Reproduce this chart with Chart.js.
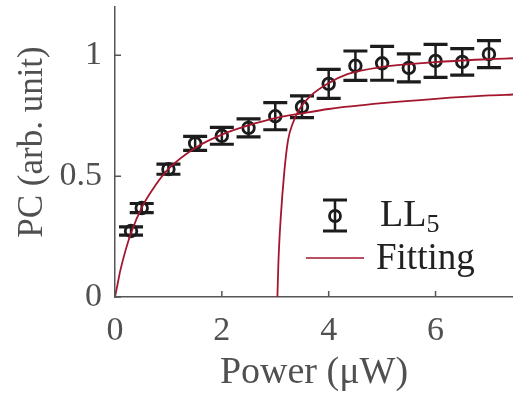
<!DOCTYPE html>
<html>
<head>
<meta charset="utf-8">
<script src="https://cdn.jsdelivr.net/npm/chart.js@4"></script>
<style>
  html, body { margin: 0; padding: 0; background: #fff; }
  #wrap { width: 513px; height: 400px; }
</style>
</head>
<body>
<div id="wrap"><canvas id="pcChart"></canvas></div>
<script>
// measured points (LL5)
const powerUW = [0.3, 0.5, 1, 1.5, 2, 2.5, 3, 3.5, 4, 4.5, 5, 5.5, 6, 6.5, 7];
const pcValue = [0.273, 0.368, 0.529, 0.636, 0.667, 0.70, 0.748, 0.787, 0.882, 0.957, 0.967, 0.948, 0.977, 0.973, 1.005];
const pcError = [0.017, 0.019, 0.021, 0.029, 0.035, 0.037, 0.056, 0.045, 0.06, 0.061, 0.07, 0.058, 0.068, 0.055, 0.056];

// fitting curves
const fitLowX = [0, 0.05, 0.1, 0.2, 0.3, 0.5, 0.75, 1, 1.5, 2, 2.5, 3, 3.5, 4, 5, 6, 7, 7.45];
const fitLowY = [0, 0.055, 0.11, 0.195, 0.265, 0.37, 0.46, 0.53, 0.617, 0.672, 0.71, 0.74, 0.76, 0.778, 0.802, 0.82, 0.834, 0.838];
const fitHighX = [3.04, 3.06, 3.1, 3.17, 3.24, 3.33, 3.46, 3.65, 4, 4.35, 5, 6, 7, 7.45];
const fitHighY = [0, 0.15, 0.32, 0.52, 0.65, 0.72, 0.78, 0.83, 0.885, 0.922, 0.952, 0.972, 0.984, 0.988];

const xTicks = [0, 2, 4, 6];
const yTicks = [0, 0.5, 1];

const axisColor = "#555555";
const textColor = "#505050";
const markColor = "#1c1c1c";
const fitColor = "#a3162e";
const serif = "'Liberation Serif', 'DejaVu Serif', serif";

const toPoints = (xs, ys) => xs.map((x, i) => ({ x, y: ys[i] }));

// error bars under the markers
const errorBars = {
  id: "errorBars",
  beforeDatasetsDraw(chart) {
    const { ctx, scales: { x, y } } = chart;
    ctx.save();
    ctx.strokeStyle = markColor;
    powerUW.forEach((p, i) => {
      const px = x.getPixelForValue(p);
      const top = y.getPixelForValue(pcValue[i] + pcError[i]);
      const bot = y.getPixelForValue(pcValue[i] - pcError[i]);
      ctx.lineWidth = 2.5;
      ctx.beginPath();
      ctx.moveTo(px, top);
      ctx.lineTo(px, bot);
      ctx.stroke();
      ctx.lineWidth = 3.2;
      ctx.beginPath();
      ctx.moveTo(px - 12, top); ctx.lineTo(px + 12, top);
      ctx.moveTo(px - 12, bot); ctx.lineTo(px + 12, bot);
      ctx.stroke();
    });
    ctx.restore();
  }
};

// inward ticks, y title, legend box
const axisDecor = {
  id: "axisDecor",
  afterDraw(chart) {
    const { ctx, chartArea: a, scales: { x, y } } = chart;
    ctx.save();
    ctx.strokeStyle = axisColor;
    ctx.lineWidth = 1.5;
    ctx.beginPath();
    xTicks.forEach(v => {
      const px = x.getPixelForValue(v);
      ctx.moveTo(px, a.bottom); ctx.lineTo(px, a.bottom - 6);
    });
    yTicks.forEach(v => {
      const py = y.getPixelForValue(v);
      ctx.moveTo(a.left, py); ctx.lineTo(a.left + 6, py);
    });
    ctx.stroke();

    // y title
    ctx.save();
    ctx.translate(33, 142);
    ctx.rotate(-Math.PI / 2);
    ctx.fillStyle = textColor;
    ctx.font = "35px " + serif;
    ctx.textAlign = "center";
    ctx.textBaseline = "middle";
    ctx.fillText("PC (arb. unit)", 0, 0);
    ctx.restore();

    // legend: error bar sample
    const lx = 335;
    ctx.strokeStyle = markColor;
    ctx.lineWidth = 2.5;
    ctx.beginPath(); ctx.moveTo(lx, 200); ctx.lineTo(lx, 231); ctx.stroke();
    ctx.lineWidth = 3.2;
    ctx.beginPath();
    ctx.moveTo(lx - 12, 200); ctx.lineTo(lx + 12, 200);
    ctx.moveTo(lx - 12, 231); ctx.lineTo(lx + 12, 231);
    ctx.stroke();
    ctx.lineWidth = 2.8;
    ctx.beginPath(); ctx.arc(lx, 216, 5.5, 0, Math.PI * 2); ctx.stroke();
    // legend: fitting line
    ctx.strokeStyle = fitColor;
    ctx.lineWidth = 1.6;
    ctx.beginPath(); ctx.moveTo(306, 258); ctx.lineTo(364, 258); ctx.stroke();

    ctx.fillStyle = "#222";
    ctx.textBaseline = "alphabetic";
    ctx.textAlign = "left";
    ctx.font = "38px " + serif;
    ctx.fillText("LL", 380, 226);
    const w = ctx.measureText("LL").width;
    ctx.font = "26px " + serif;
    ctx.fillText("5", 380 + w, 232);
    ctx.font = "37px " + serif;
    ctx.fillText("Fitting", 376, 269);
    ctx.restore();
  }
};

const noPad = s => { s.paddingTop = 0; s.paddingBottom = 0; s.paddingLeft = 0; s.paddingRight = 0; };

const chart = new Chart(document.getElementById("pcChart"), {
  type: "scatter",
  data: {
    datasets: [
      {
        type: "line",
        label: "Fitting",
        data: toPoints(fitHighX, fitHighY),
        borderColor: fitColor,
        borderWidth: 1.8,
        pointRadius: 0,
        cubicInterpolationMode: "monotone",
        fill: false
      },
      {
        type: "line",
        label: "Fitting low",
        data: toPoints(fitLowX, fitLowY),
        borderColor: fitColor,
        borderWidth: 1.8,
        pointRadius: 0,
        cubicInterpolationMode: "monotone",
        fill: false
      },
      {
        label: "LL5",
        data: toPoints(powerUW, pcValue),
        pointStyle: "circle",
        pointRadius: 5.8,
        pointBorderWidth: 2.8,
        pointBorderColor: markColor,
        pointBackgroundColor: "rgba(0,0,0,0)"
      }
    ]
  },
  options: {
    responsive: true,
    maintainAspectRatio: false,
    animation: false,
    devicePixelRatio: 1,
    layout: { autoPadding: false, padding: { top: 7, right: 0, left: 0, bottom: 0 } },
    plugins: {
      legend: { display: false },
      tooltip: { enabled: false }
    },
    scales: {
      x: {
        type: "linear",
        min: 0,
        max: 7.45,
        afterFit: s => { s.height = 103; noPad(s); },
        afterBuildTicks: s => { s.ticks = xTicks.map(v => ({ value: v })); },
        ticks: { font: { family: serif, size: 34 }, color: textColor, padding: 14, maxRotation: 0 },
        grid: { display: false, drawTicks: false },
        border: { display: true, color: axisColor, width: 1.5 },
        title: { display: true, text: "Power (μW)", font: { family: serif, size: 38 }, color: textColor, padding: { top: 0, bottom: 4 } }
      },
      y: {
        min: 0,
        max: 1.2,
        afterFit: s => { s.width = 115; noPad(s); },
        afterBuildTicks: s => { s.ticks = yTicks.map(v => ({ value: v })); },
        ticks: { font: { family: serif, size: 34 }, color: textColor, padding: 13, callback: v => String(v) },
        grid: { display: false, drawTicks: false },
        border: { display: true, color: axisColor, width: 1.5 }
      }
    }
  },
  plugins: [errorBars, axisDecor]
});
</script>
</body>
</html>
